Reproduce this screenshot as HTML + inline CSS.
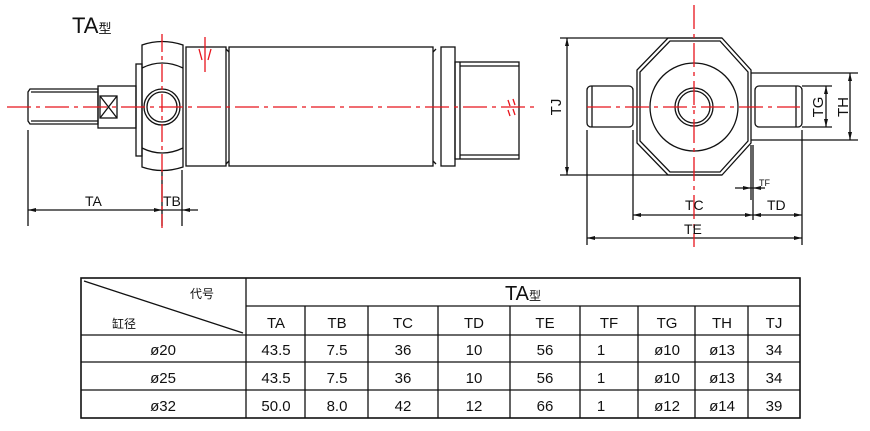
<!DOCTYPE html>
<html><head><meta charset="utf-8"><style>
html,body{margin:0;padding:0;background:#fff;}
svg{display:block}
text{font-family:"Liberation Sans","Noto Sans CJK SC",sans-serif;fill:#111}
</style></head><body>
<svg width="870" height="431" viewBox="0 0 870 431" xmlns="http://www.w3.org/2000/svg">
<g stroke="#111" stroke-width="1.3" fill="none">
<!-- Left view -->
<path d="M30 89 L98 89 L98 124 L30 124 L28 121 L28 92 Z"/>
<line x1="31" y1="92" x2="98" y2="92"/><line x1="31" y1="121" x2="98" y2="121"/>
<rect x="98" y="86" width="38" height="42"/>
<rect x="100" y="96" width="17" height="22"/>
<line x1="100" y1="96" x2="117" y2="118"/><line x1="117" y1="96" x2="100" y2="118"/>
<rect x="136" y="64" width="6" height="92"/>
<path d="M142 45 Q162 38 183 45 L183 167 Q162 174 142 167 Z"/>
<path d="M142 68 Q162 58 183 68"/><path d="M142 148 Q162 158 183 148"/>
<circle cx="162" cy="107" r="18"/><circle cx="162" cy="107" r="15"/>
<rect x="186" y="47" width="40" height="119"/>
<line x1="226" y1="49" x2="229" y2="52"/><line x1="226" y1="164" x2="229" y2="161"/>
<rect x="229" y="47" width="204" height="119"/>
<line x1="433" y1="52" x2="436" y2="49"/><line x1="433" y1="161" x2="436" y2="164"/>
<rect x="441" y="47" width="14" height="119"/>
<rect x="455" y="62" width="64" height="97"/>
<line x1="460" y1="66" x2="519" y2="66"/><line x1="460" y1="155" x2="519" y2="155"/>
<line x1="460" y1="62" x2="460" y2="159"/>
<!-- left dims -->
<line x1="28" y1="130" x2="28" y2="226"/><line x1="162" y1="170" x2="162" y2="226"/><line x1="182" y1="170" x2="182" y2="226"/>
<line x1="28" y1="210" x2="198" y2="210"/>
<!-- Right view -->
<polygon points="668,38 722,38 751,70 751,143 722,175 668,175 637,143 637,70"/>
<polygon points="670,41 720,41 748,72 748,141 720,172 670,172 640,141 640,72"/>
<rect x="587" y="86" width="46" height="41" rx="4"/>
<rect x="755" y="86" width="47" height="41" rx="4"/>
<line x1="796" y1="86" x2="796" y2="127"/><line x1="592" y1="86" x2="592" y2="127"/>
<circle cx="694" cy="107" r="44"/><circle cx="694" cy="107" r="19"/><circle cx="694" cy="107" r="16"/>
<line x1="560" y1="38" x2="722" y2="38"/><line x1="560" y1="175" x2="722" y2="175"/>
<line x1="567" y1="38" x2="567" y2="175"/>
<line x1="751" y1="73" x2="858" y2="73"/><line x1="751" y1="140" x2="858" y2="140"/>
<line x1="850" y1="73" x2="850" y2="140"/>
<line x1="802" y1="86" x2="832" y2="86"/><line x1="802" y1="127" x2="832" y2="127"/>
<line x1="826" y1="86" x2="826" y2="127"/>
<line x1="587" y1="130" x2="587" y2="245"/><line x1="633" y1="130" x2="633" y2="220"/>
<line x1="751" y1="145" x2="751" y2="200"/><line x1="753" y1="145" x2="753" y2="220"/><line x1="802" y1="130" x2="802" y2="245"/>
<line x1="633" y1="215" x2="802" y2="215"/>
<line x1="587" y1="238" x2="802" y2="238"/>
<line x1="735" y1="188" x2="765" y2="188"/>
<!-- Table -->
<rect x="81" y="278" width="719" height="140" stroke-width="1.6"/>
<line x1="246" y1="278" x2="246" y2="418"/>
<line x1="246" y1="306" x2="800" y2="306"/>
<line x1="81" y1="335" x2="800" y2="335"/><line x1="81" y1="362" x2="800" y2="362"/><line x1="81" y1="390" x2="800" y2="390"/>
<line x1="84" y1="281" x2="243" y2="333"/>
<g>
<line x1="305" y1="306" x2="305" y2="418"/><line x1="368" y1="306" x2="368" y2="418"/><line x1="438" y1="306" x2="438" y2="418"/>
<line x1="510" y1="306" x2="510" y2="418"/><line x1="580" y1="306" x2="580" y2="418"/><line x1="638" y1="306" x2="638" y2="418"/>
<line x1="695" y1="306" x2="695" y2="418"/><line x1="748" y1="306" x2="748" y2="418"/>
</g>
</g>
<!-- arrows -->
<g fill="#111">
<polygon points="28,210 36,208 36,212"/><polygon points="162,210 154,208 154,212"/><polygon points="182,210 190,208 190,212"/>
<polygon points="567,38 565,46 569,46"/><polygon points="567,175 565,167 569,167"/>
<polygon points="850,73 848,81 852,81"/><polygon points="850,140 848,132 852,132"/>
<polygon points="826,86 824,94 828,94"/><polygon points="826,127 824,119 828,119"/>
<polygon points="633,215 641,213 641,217"/><polygon points="753,215 745,213 745,217"/><polygon points="753,215 761,213 761,217"/><polygon points="802,215 794,213 794,217"/>
<polygon points="587,238 595,236 595,240"/><polygon points="802,238 794,236 794,240"/>
<polygon points="751,188 743,186 743,190"/><polygon points="753,188 761,186 761,190"/>
</g>
<!-- red centerlines -->
<g stroke="#e8141c" stroke-width="1.3" fill="none">
<line x1="7" y1="107" x2="538" y2="107" stroke-dasharray="24,5,4,5"/>
<line x1="162" y1="34" x2="162" y2="228" stroke-dasharray="18,4,4,4"/>
<line x1="694" y1="5" x2="694" y2="247" stroke-dasharray="24,5,4,5"/>
<line x1="587" y1="107" x2="800" y2="107" stroke-dasharray="24,5,4,5"/>
<line x1="205" y1="37" x2="205" y2="72"/><line x1="199" y1="49" x2="202" y2="60"/><line x1="211" y1="49" x2="208" y2="60"/>
<line x1="508" y1="100" x2="510" y2="106"/><line x1="513" y1="99" x2="515" y2="105"/><line x1="508" y1="110" x2="510" y2="116"/><line x1="513" y1="109" x2="515" y2="115"/>
</g>
<!-- labels -->
<text x="72" y="33" font-size="22">TA<tspan font-size="13">型</tspan></text>
<text x="85" y="206" font-size="14">TA</text>
<text x="163" y="206" font-size="14">TB</text>
<text x="685" y="210" font-size="14">TC</text>
<text x="767" y="210" font-size="14">TD</text>
<text x="684" y="234" font-size="14">TE</text>
<text x="759" y="186" font-size="9">TF</text>
<text transform="translate(561,107) rotate(-90)" font-size="15" text-anchor="middle">TJ</text>
<text transform="translate(823,107) rotate(-90)" font-size="15" text-anchor="middle">TG</text>
<text transform="translate(848,107) rotate(-90)" font-size="15" text-anchor="middle">TH</text>
<text x="523" y="300" font-size="20" text-anchor="middle">TA<tspan font-size="12">型</tspan></text>
<text x="190" y="298" font-size="12">代号</text>
<text x="112" y="328" font-size="12">缸径</text>
<g font-size="15" text-anchor="middle">
<text x="276" y="328">TA</text><text x="337" y="328">TB</text><text x="403" y="328">TC</text><text x="474" y="328">TD</text><text x="545" y="328">TE</text><text x="609" y="328">TF</text><text x="667" y="328">TG</text><text x="722" y="328">TH</text><text x="774" y="328">TJ</text>
<text x="163" y="355">ø20</text><text x="276" y="355">43.5</text><text x="337" y="355">7.5</text><text x="403" y="355">36</text><text x="474" y="355">10</text><text x="545" y="355">56</text><text x="601" y="355">1</text><text x="667" y="355">ø10</text><text x="722" y="355">ø13</text><text x="774" y="355">34</text>
<text x="163" y="383">ø25</text><text x="276" y="383">43.5</text><text x="337" y="383">7.5</text><text x="403" y="383">36</text><text x="474" y="383">10</text><text x="545" y="383">56</text><text x="601" y="383">1</text><text x="667" y="383">ø10</text><text x="722" y="383">ø13</text><text x="774" y="383">34</text>
<text x="163" y="411">ø32</text><text x="276" y="411">50.0</text><text x="337" y="411">8.0</text><text x="403" y="411">42</text><text x="474" y="411">12</text><text x="545" y="411">66</text><text x="601" y="411">1</text><text x="667" y="411">ø12</text><text x="722" y="411">ø14</text><text x="774" y="411">39</text>
</g>
</svg>
</body></html>
